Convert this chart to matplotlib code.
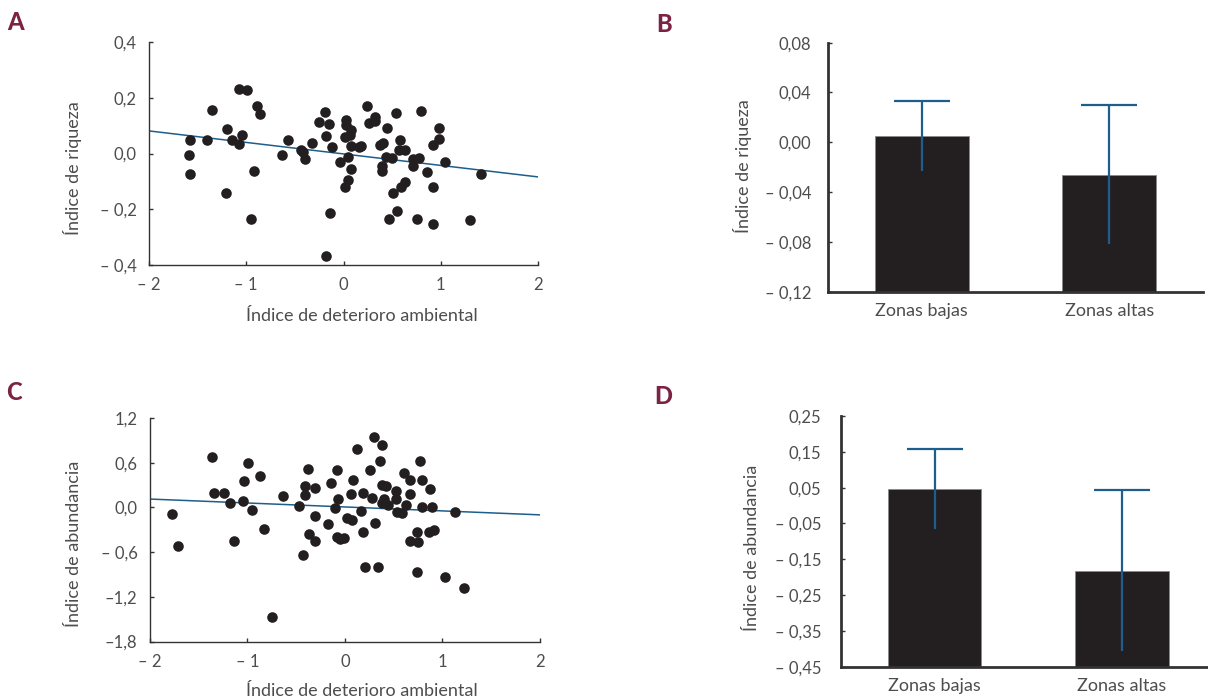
import numpy as np
import matplotlib.pyplot as plt

plt.rcParams['font.family'] = ['Lato', 'DejaVu Sans']

# ---- panel A: indice de riqueza vs deterioro
ax_x = [-1.079, -0.993, -1.353, -0.890, -0.856, -1.195, -1.582, -1.404, -1.144, -1.048,
        -1.075, -1.592, -1.579, -1.212, -0.925, -0.949, -0.575, -0.637, -0.442, -0.418,
        -0.394, -0.322, -0.195, -0.247, -0.144, -0.178, -0.116, -0.034, -0.137, -0.178,
        0.027, 0.027, 0.082, 0.017, 0.068, 0.075, 0.048, 0.075, 0.048, 0.017,
        0.164, 0.178, 0.240, 0.322, 0.260, 0.329, 0.445, 0.373, 0.404, 0.538,
        0.586, 0.572, 0.634, 0.438, 0.500, 0.397, 0.397, 0.507, 0.596, 0.634,
        0.548, 0.466, 0.719, 0.781, 0.719, 0.801, 0.860, 0.753, 0.921, 0.918,
        0.979, 0.979, 0.918, 1.041, 1.301, 1.414]
ay = [0.233, 0.227, 0.157, 0.172, 0.142, 0.087, 0.047, 0.048, 0.048, 0.065,
      0.035, -0.005, -0.073, -0.141, -0.061, -0.234, 0.047, -0.004, 0.012, 0.006,
      -0.019, 0.036, 0.149, 0.113, 0.106, 0.063, 0.024, -0.031, -0.215, -0.366,
      0.119, 0.102, 0.084, 0.060, 0.066, 0.027, -0.014, -0.054, -0.096, -0.121,
      0.022, 0.027, 0.171, 0.131, 0.108, 0.116, 0.092, 0.029, 0.038, 0.146,
      0.047, 0.012, 0.013, -0.014, -0.017, -0.044, -0.061, -0.140, -0.119, -0.103,
      -0.208, -0.234, -0.020, -0.016, -0.044, 0.151, -0.066, -0.235, -0.119, -0.254,
      0.092, 0.053, 0.032, -0.030, -0.240, -0.073]
fit_x = [-2, 2]
fit_a = [0.081, -0.084]

# ---- panel C: indice de abundancia vs deterioro
cx = [-1.774, -1.713, -1.364, -1.344, -1.238, -1.179, -1.135, -1.050, -1.039, -0.995,
      -0.950, -0.868, -0.831, -0.745, -0.636, -0.468, -0.434, -0.414, -0.410, -0.383,
      -0.369, -0.308, -0.311, -0.304, -0.178, -0.140, -0.103, -0.082, -0.075, -0.082,
      -0.055, -0.014, 0.017, 0.068, 0.079, 0.058, 0.123, 0.161, 0.181, 0.185,
      0.209, 0.253, 0.280, 0.294, 0.308, 0.338, 0.376, 0.356, 0.376, 0.424,
      0.403, 0.383, 0.438, 0.520, 0.520, 0.530, 0.581, 0.629, 0.605, 0.663,
      0.670, 0.663, 0.738, 0.752, 0.738, 0.773, 0.790, 0.786, 0.889, 0.868,
      0.862, 0.909, 1.026, 1.128, 1.217]
cy = [-0.085, -0.515, 0.681, 0.188, 0.188, 0.054, -0.448, 0.085, 0.349, 0.591,
      -0.036, 0.425, -0.287, -1.473, 0.157, 0.022, -0.640, 0.291, 0.166, 0.519,
      -0.358, -0.112, 0.264, -0.448, -0.219, 0.327, -0.013, 0.502, 0.116, -0.394,
      -0.425, -0.416, -0.139, -0.170, 0.372, 0.184, 0.784, -0.054, -0.327, 0.188,
      -0.806, 0.506, 0.130, 0.945, -0.210, -0.806, 0.833, 0.627, 0.300, 0.282,
      0.112, 0.058, 0.031, 0.219, 0.112, -0.058, -0.076, 0.031, 0.466, 0.367,
      0.179, -0.448, -0.327, -0.466, -0.869, 0.627, 0.367, 0.000, 0.000, 0.246,
      -0.327, -0.300, -0.931, -0.058, -1.088]
fit_c = [0.112, -0.100]

# ---- bars
zonas = ['Zonas bajas', 'Zonas altas']
riq_mean = [0.005, -0.026]
riq_err = [0.028, 0.056]
abu_mean = [0.046, -0.182]
abu_err = [0.111, 0.225]

sc_ticks_x = [-2, -1, 0, 1, 2]
sc_ticklab_x = ['\u2013 2', '\u2013 1', '0', '1', '2']
a_ticks = [-0.4, -0.2, 0.0, 0.2, 0.4]
a_ticklab = ['\u2013 0,4', '\u2013 0,2', '0,0', '0,2', '0,4']
c_ticks = [-1.8, -1.2, -0.6, 0.0, 0.6, 1.2]
c_ticklab = ['\u20131,8', '\u20131,2', '\u2013 0,6', '0,0', '0,6', '1,2']
b_ticks = [-0.12, -0.08, -0.04, 0.0, 0.04, 0.08]
b_ticklab = ['\u2013 0,12', '\u2013 0,08', '\u2013 0,04', '0,00', '0,04', '0,08']
d_ticks = [-0.45, -0.35, -0.25, -0.15, -0.05, 0.05, 0.15, 0.25]
d_ticklab = ['\u2013 0,45', '\u2013 0,35', '\u2013 0,25', '\u2013 0,15', '\u2013 0,05',
             '0,05', '0,15', '0,25']

W, H = 1208, 700
fig = plt.figure(figsize=(W / 100, H / 100), dpi=100)

def box(l, t, r, b):
    return [l / W, 1 - b / H, (r - l) / W, (b - t) / H]

txt = '#4d4d4d'
dark = '#231f20'
blue = '#1d5e8c'
maroon = '#7b2343'

def style(ax, lw, ypad, xpad):
    for s in ['top', 'right']:
        ax.spines[s].set_visible(False)
    for s in ['left', 'bottom']:
        ax.spines[s].set_linewidth(lw)
        ax.spines[s].set_color('#333333')
    ax.tick_params(direction='in', length=3, width=1, colors='#333333',
                   labelcolor=txt, labelsize=12)
    ax.tick_params(axis='y', pad=ypad)
    ax.tick_params(axis='x', pad=xpad)

# A
axA = fig.add_axes(box(149, 42, 538, 265))
axA.scatter(ax_x, ay, s=58, color=dark, zorder=3, linewidths=0)
axA.plot(fit_x, fit_a, color=blue, lw=1.1, zorder=2)
axA.set_xlim(-2, 2)
axA.set_ylim(-0.4, 0.4)
axA.set_xticks(sc_ticks_x, sc_ticklab_x)
axA.set_yticks(a_ticks, a_ticklab)
style(axA, 1.0, 9, 9)

# C
axC = fig.add_axes(box(150, 418, 540, 641.5))
axC.scatter(cx, cy, s=58, color=dark, zorder=3, linewidths=0)
axC.plot(fit_x, fit_c, color=blue, lw=1.1, zorder=2)
axC.set_xlim(-2, 2)
axC.set_ylim(-1.8, 1.2)
axC.set_xticks(sc_ticks_x, sc_ticklab_x)
axC.set_yticks(c_ticks, c_ticklab)
style(axC, 1.0, 9, 9)

pos = np.arange(len(zonas))

def bars(ax, mean, err, lo, hi, ypad):
    mean = np.array(mean)
    err = np.array(err)
    # bars stand on the bottom of the axis, as in the original figure
    ax.bar(pos, mean - lo, width=0.5, bottom=lo, color=dark, edgecolor='#8a8a8a',
           linewidth=0.6, zorder=2)
    ax.vlines(pos, mean - err, mean + err, color=blue, lw=1.6, zorder=3)
    ax.hlines(mean + err, pos - 0.15, pos + 0.15, color=blue, lw=1.6, zorder=3)
    ax.set_ylim(lo, hi)
    ax.set_xticks(pos, zonas)
    style(ax, 2.0, ypad, 8)
    ax.tick_params(axis='x', length=0, labelsize=13)

# B
axB = fig.add_axes(box(828, 42.7, 1203, 291.7))
bars(axB, riq_mean, riq_err, -0.12, 0.08, 12)
axB.set_xlim(-0.5, 1.5)
axB.set_yticks(b_ticks, b_ticklab)

# D
axD = fig.add_axes(box(841, 416, 1208, 666.7))
bars(axD, abu_mean, abu_err, -0.45, 0.25, 14)
axD.set_xlim(-0.5, 1.46)
axD.set_yticks(d_ticks, d_ticklab)

# labels
fs = 13
fig.text(73 / W, 1 - 168 / H, '\u00cdndice de riqueza', rotation=90, ha='center', va='center',
         fontsize=fs, color=txt)
fig.text(743 / W, 1 - 166 / H, '\u00cdndice de riqueza', rotation=90, ha='center', va='center',
         fontsize=fs, color=txt)
fig.text(74 / W, 1 - 544 / H, '\u00cdndice de abundancia', rotation=90, ha='center', va='center',
         fontsize=fs, color=txt)
fig.text(752 / W, 1 - 548 / H, '\u00cdndice de abundancia', rotation=90, ha='center', va='center',
         fontsize=fs, color=txt)
fig.text(362 / W, 1 - 316 / H, '\u00cdndice de deterioro ambiental', ha='center', va='center',
         fontsize=fs, color=txt)
fig.text(362 / W, 1 - 691 / H, '\u00cdndice de deterioro ambiental', ha='center', va='center',
         fontsize=fs, color=txt)

for lab, x, y in [('A', 16, 22), ('B', 664, 25), ('C', 14, 393), ('D', 663, 396)]:
    fig.text(x / W, 1 - y / H, lab, ha='center', va='center', fontsize=17,
             fontweight='black', color=maroon)

fig.savefig('out.png', dpi=100)
